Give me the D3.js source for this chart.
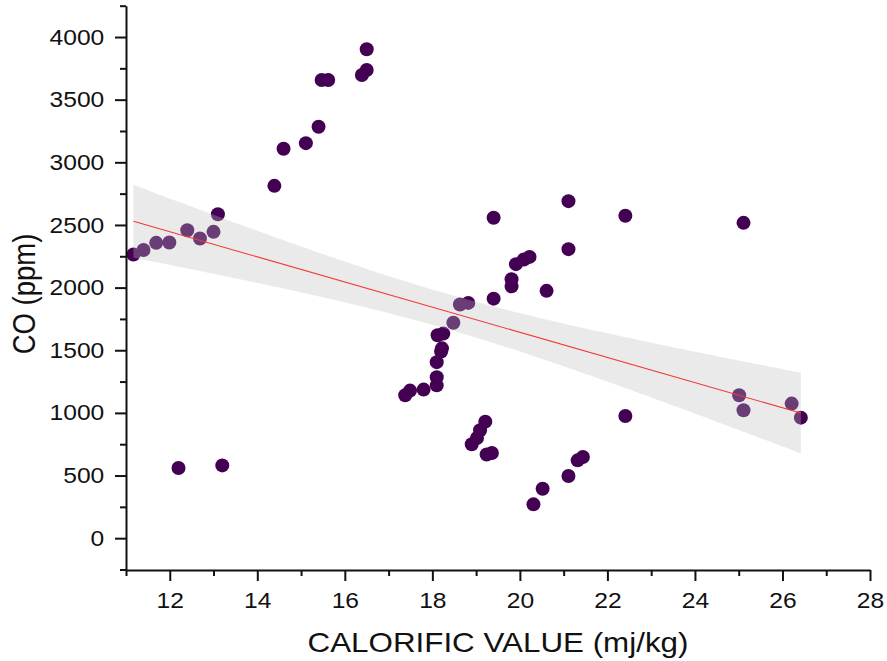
<!DOCTYPE html>
<html>
<head>
<meta charset="utf-8">
<script src="https://cdn.jsdelivr.net/npm/d3@7/dist/d3.min.js"></script>
<style>
  html, body { margin: 0; padding: 0; background: #fff; }
  svg { display: block; }
  text { font-family: "Liberation Sans", Arial, sans-serif; fill: #111; }
</style>
</head>
<body>
<svg id="chart" width="887" height="661"></svg>
<script>
// Calorific value (mj/kg) of each sample
const calorific = [
  11.17, 11.40, 11.69, 11.99, 12.40, 12.69, 13.00, 13.10, 12.20, 13.20,
  14.39, 14.60, 15.11, 15.40, 15.47, 15.62, 16.39, 16.50, 16.50,
  17.38, 17.49, 17.80, 18.10, 18.10, 18.10, 18.20, 18.22, 18.12, 18.25,
  18.48, 18.63, 18.82, 18.90, 19.02, 19.09, 19.21, 19.24, 19.36,
  19.40, 19.40, 19.81, 19.81, 19.91, 20.09, 20.22,
  20.31, 20.52, 20.61, 21.11, 21.32, 21.44, 21.11, 21.11,
  22.41, 22.41, 25.01, 25.11, 25.11, 26.21, 26.42
];
// CO concentration (ppm) of each sample
const coPpm = [
  2264, 2300, 2357, 2360, 2458, 2392, 2445, 2586, 560, 581,
  2812, 3108, 3153, 3284, 3657, 3657, 3697, 3737, 3902,
  1141, 1178, 1186, 1220, 1285, 1405, 1490, 1515, 1620, 1633,
  1720, 1865, 1878, 750, 800, 861, 930, 668, 680,
  1912, 2557, 2010, 2067, 2187, 2224, 2245,
  270, 395, 1974, 496, 621, 648, 2307, 2690,
  975, 2573, 1141, 1021, 2517, 1074, 962
];

// Linear fit summary and its 95% confidence band parameters
const fitIntercept = 3651;
const fitSlope = -100.4;
const bandCenterX = 18.3;
const bandSeMean = 140.5;
const bandSeSlope = 35.68;

// Axis ticks
const xMajorTicks = [12, 14, 16, 18, 20, 22, 24, 26, 28];
const xMinorTicks = [11, 13, 15, 17, 19, 21, 23, 25, 27];
const yMajorTicks = [0, 500, 1000, 1500, 2000, 2500, 3000, 3500, 4000];
const yMinorTicks = [-250, 250, 750, 1250, 1750, 2250, 2750, 3250, 3750, 4250];

const xTitle = "CALORIFIC VALUE (mj/kg)";
const yTitle = "CO (ppm)";

const svg = d3.select("#chart");
const stretch = 1.12;

const x = d3.scaleLinear().domain([11, 28]).range([126, 870]);
const y = d3.scaleLinear().domain([-250, 4250]).range([569.5, 5.7]);

const points = calorific.map((c, i) => ({ x: c, y: coPpm[i] }));
const [xMin, xMax] = d3.extent(calorific);

// Scatter points
svg.append("g")
  .selectAll("circle")
  .data(points)
  .join("circle")
  .attr("cx", d => x(d.x))
  .attr("cy", d => y(d.y))
  .attr("r", 7)
  .attr("fill", "#440154");

// Confidence band over the fitted range
const fitAt = v => fitIntercept + fitSlope * v;
const halfWidth = v => Math.sqrt(bandSeMean * bandSeMean + bandSeSlope * bandSeSlope * (v - bandCenterX) * (v - bandCenterX));
const bandXs = d3.range(0, 101).map(i => xMin + (xMax - xMin) * i / 100);

svg.append("path")
  .datum(bandXs)
  .attr("fill", "#bebebe")
  .attr("fill-opacity", 0.32)
  .attr("d", d3.area()
    .x(v => x(v))
    .y0(v => y(fitAt(v) - halfWidth(v)))
    .y1(v => y(fitAt(v) + halfWidth(v))));

// Fitted line
svg.append("path")
  .datum([xMin, xMax])
  .attr("fill", "none")
  .attr("stroke", "#f23a3a")
  .attr("stroke-width", 1.1)
  .attr("d", d3.line().x(v => x(v)).y(v => y(fitAt(v))));

// Axes
const axisStyle = g => {
  g.selectAll("path.domain").attr("stroke", "#111").attr("stroke-width", 2);
  g.selectAll(".tick line").attr("stroke", "#111").attr("stroke-width", 2);
};

const xAxisG = svg.append("g").attr("transform", "translate(0,570)");
xAxisG.append("g")
  .call(d3.axisBottom(x).tickValues(xMinorTicks).tickSize(6).tickSizeOuter(0).tickFormat(""))
  .call(axisStyle);
xAxisG.append("g")
  .call(d3.axisBottom(x).tickValues(xMajorTicks).tickSize(11).tickSizeOuter(0).tickPadding(11.5))
  .call(axisStyle)
  .call(g => g.select("path.domain").remove());

const yAxisG = svg.append("g").attr("transform", "translate(126,0)");
yAxisG.append("g")
  .call(d3.axisLeft(y).tickValues(yMinorTicks).tickSize(6).tickSizeOuter(0).tickFormat(""))
  .call(axisStyle);
yAxisG.append("g")
  .call(d3.axisLeft(y).tickValues(yMajorTicks).tickSize(11).tickSizeOuter(0).tickFormat(d3.format("d")))
  .call(axisStyle)
  .call(g => g.select("path.domain").remove());

// Tick label typography (slightly wide lettering)
svg.selectAll(".tick text")
  .attr("font-size", 22)
  .attr("font-family", "'Liberation Sans', Arial, sans-serif")
  .attr("fill", "#111");
xAxisG.selectAll(".tick text")
  .each(function () {
    const t = d3.select(this);
    const ty = +t.attr("y");
    t.attr("y", 0).attr("transform", `translate(0,${ty}) scale(${stretch},1)`);
  });
yAxisG.selectAll(".tick text")
  .each(function () {
    const t = d3.select(this);
    t.attr("x", 0).attr("transform", `translate(-21.7,0) scale(${stretch},1)`);
  });

// Axis titles
svg.append("text")
  .attr("transform", `translate(498,651.5) scale(${stretch},1)`)
  .attr("text-anchor", "middle")
  .attr("font-size", 28)
  .text(xTitle);

svg.append("text")
  .attr("transform", `translate(35,294) scale(${stretch},1) rotate(-90)`)
  .attr("text-anchor", "middle")
  .attr("font-size", 27.5)
  .text(yTitle);
</script>
</body>
</html>
